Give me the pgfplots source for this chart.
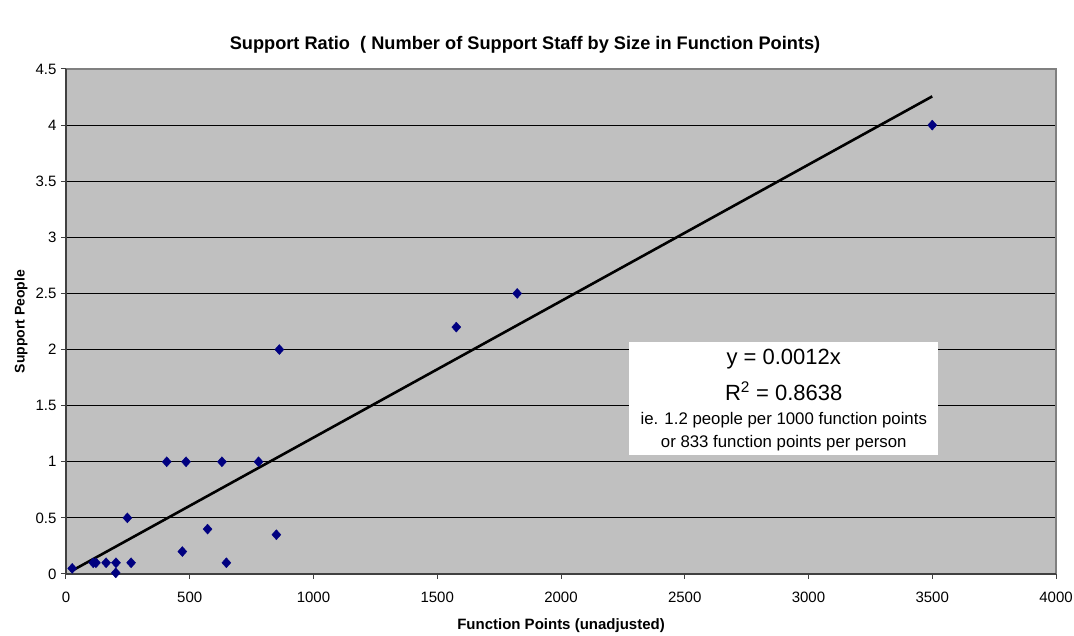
\documentclass[border=0pt]{standalone}
\usepackage{pgfplots}
\pgfplotsset{compat=1.18}
\usepackage{fontspec}
\setmainfont{Liberation Sans}
\definecolor{plotbg}{HTML}{C0C0C0}
\definecolor{navymark}{HTML}{000080}
\definecolor{frametop}{HTML}{808080}
\definecolor{frameaxis}{HTML}{404040}

\begin{document}
\begin{tikzpicture}
\path[use as bounding box] (-66pt,-62pt) rectangle (1008pt,574pt);
\begin{axis}[
  at={(0,0)}, anchor=south west,
  scale only axis,
  width=990pt, height=505pt,
  xmin=0, xmax=4000,
  ymin=0, ymax=4.5,
  xtick={0,500,...,4000},
  ytick={0,0.5,...,4.5},
  tick pos=left,
  tick align=outside,
  major tick length=5pt,
  tick style={frameaxis, line width=1pt},
  axis line style={draw=none},
  axis background/.style={fill=plotbg},
  ymajorgrids,
  major grid style={black, line width=1pt},
  /pgf/number format/assume math mode=true,
  /pgf/number format/1000 sep={},
  tick label style={font=\fontsize{15}{17}\selectfont},
  yticklabel style={xshift=-1pt},
  xticklabel style={yshift=-9pt},
  xlabel={Function Points (unadjusted)},
  ylabel={Support People},
  xlabel style={font=\bfseries\fontsize{15}{17}\selectfont, at={(rel axis cs:0.5,0)}, anchor=center, yshift=-52pt},
  ylabel style={font=\bfseries\fontsize{14}{16}\selectfont, at={(rel axis cs:0,0.5)}, anchor=center, yshift=45pt},
  clip=false,
]
% text box of the trend line
\fill[white] (axis cs:2275,2.068) rectangle (axis cs:3522,1.059);
\node[font=\fontsize{22}{24}\selectfont] at (axis cs:2900,1.913) {y = 0.0012x};
\node[font=\fontsize{22}{24}\selectfont] at (axis cs:2900,1.630) {R\textsuperscript{2} = 0.8638};
\node[font=\fontsize{16.8}{18}\selectfont] at (axis cs:2900,1.371) {ie. 1.2 people per 1000 function points};
\node[font=\fontsize{16.8}{18}\selectfont] at (axis cs:2900,1.163) {or 833 function points per person};

% trend line
\addplot[black, line width=2.6pt, no marks] coordinates {(25,0.03)(3500,4.256)};

% data
\addplot[only marks, mark=diamond*, mark size=5pt, color=navymark,
  mark options={xscale=1.2}] coordinates {
  (25,0.05)(110,0.1)(121,0.1)(162,0.1)(202,0.1)(201,0.01)(248,0.5)(263,0.1)
  (407,1)(485,1)(470,0.2)(572,0.4)(630,1)(648,0.1)(778,1)(850,0.35)
  (862,2)(1577,2.2)(1823,2.5)(3500,4)
};

% frame
\draw[frametop, line width=1.5pt] (rel axis cs:0,1) -- (rel axis cs:1,1) -- (rel axis cs:1,0);
\draw[frameaxis, line width=1.5pt] (rel axis cs:0,1) -- (rel axis cs:0,0) -- (rel axis cs:1,0);
\end{axis}
\node[font=\bfseries\fontsize{18.2}{20}\selectfont] at (459pt,529pt)
  {Support Ratio\ \ ( Number of Support Staff by Size in Function Points)};
\end{tikzpicture}
\end{document}
